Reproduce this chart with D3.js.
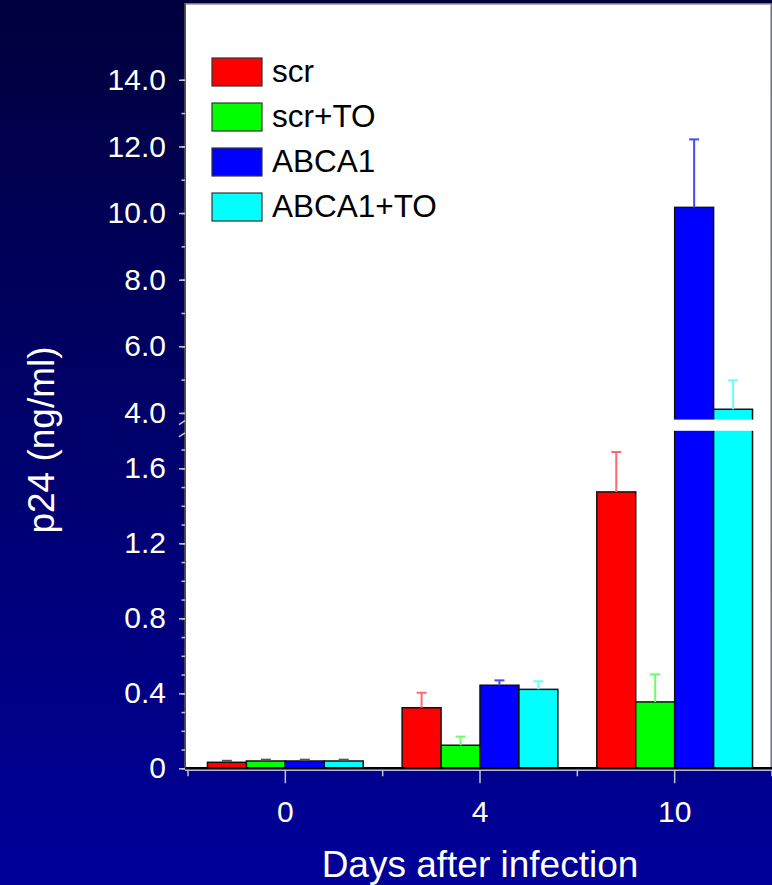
<!DOCTYPE html>
<html>
<head>
<meta charset="utf-8">
<script src="https://cdn.jsdelivr.net/npm/d3@7"></script>
<style>
  body { margin: 0; background: #000080; }
  svg { display: block; font-family: "Liberation Sans", Arial, sans-serif; }
</style>
</head>
<body>
<svg width="772" height="885"></svg>
<script>
// Data
let days = ["0", "4", "10"];
let keys = ["scr", "scr+TO", "ABCA1", "ABCA1+TO"];
let scr = [0.032, 0.323, 1.474];
let scrErr = [0.008, 0.080, 0.213];
let scrTO = [0.039, 0.123, 0.354];
let scrTOErr = [0.007, 0.046, 0.147];
let abca1 = [0.039, 0.443, 10.17];
let abca1Err = [0.007, 0.026, 2.04];
let abca1TO = [0.039, 0.421, 4.11];
let abca1TOErr = [0.007, 0.043, 0.87];
let lowTicks = [0, 0.4, 0.8, 1.2, 1.6];
let highTicks = [4, 6, 8, 10, 12, 14];

let colors = ["#ff0000", "#00ff00", "#0000ff", "#00ffff"];
let errColors = ["#ff6a6a", "#6aff6a", "#4a4aee", "#6affff"];

let series = [scr, scrTO, abca1, abca1TO];
let errs = [scrErr, scrTOErr, abca1Err, abca1TOErr];

// plot box
let plotL = 185, plotR = 771, plotT = 4, plotB = 768.3;

let svg = d3.select("svg");

// background gradient
let grad = svg.append("defs").append("linearGradient")
    .attr("id", "bg").attr("x1", 0).attr("y1", 0).attr("x2", 0).attr("y2", 1);
grad.append("stop").attr("offset", "0%").attr("stop-color", "#00003e");
grad.append("stop").attr("offset", "100%").attr("stop-color", "#00009a");
svg.append("rect").attr("width", 772).attr("height", 885).attr("fill", "url(#bg)");

svg.append("rect")
    .attr("x", plotL).attr("y", plotT)
    .attr("width", plotR - plotL).attr("height", plotB - plotT)
    .attr("fill", "#fff")
    .attr("stroke", "#9a9a9a")
    .attr("stroke-width", 1.5);

// broken y axis: two linear pieces
let breakLo = 1.8, breakHi = 3.8;
let yLo = d3.scaleLinear().domain([0, breakLo]).range([plotB, 430.8]);
let yHi = d3.scaleLinear().domain([breakHi, 16.25]).range([419.6, 4.8]);
function y(v) {
    return v <= breakLo ? yLo(v) : yHi(v);
}

let x0 = d3.scaleBand().domain(days).range([188, 772]);
let x1 = d3.scaleBand().domain(keys).range([0, x0.bandwidth() * 0.8]);
let groupOff = x0.bandwidth() * 0.1;

// flatten for drawing
let bars = [];
days.forEach(function (d, i) {
    keys.forEach(function (k, j) {
        bars.push({ day: d, key: k, idx: j, value: series[j][i], err: errs[j][i] });
    });
});

function barMid(d) {
    return x0(d.day) + groupOff + x1(d.key) + x1.bandwidth() / 2;
}

let g = svg.append("g");

g.selectAll("rect.bar")
    .data(bars)
    .enter().append("rect")
    .attr("class", "bar")
    .attr("x", function (d) { return x0(d.day) + groupOff + x1(d.key); })
    .attr("y", function (d) { return y(d.value); })
    .attr("width", x1.bandwidth())
    .attr("height", function (d) { return plotB - y(d.value); })
    .attr("fill", function (d) { return colors[d.idx]; })
    .attr("stroke", "#111")
    .attr("stroke-width", 1.5);

// error bars (upper only)
let eb = g.selectAll("g.err")
    .data(bars)
    .enter().append("g")
    .attr("class", "err")
    .attr("stroke", function (d) { return d.day === "0" ? "#555" : errColors[d.idx]; })
    .attr("stroke-width", 2);
eb.append("line")
    .attr("x1", barMid).attr("x2", barMid)
    .attr("y1", function (d) { return y(d.value); })
    .attr("y2", function (d) { return y(d.value + d.err); });
eb.append("line")
    .attr("x1", function (d) { return barMid(d) - 5; })
    .attr("x2", function (d) { return barMid(d) + 5; })
    .attr("y1", function (d) { return y(d.value + d.err); })
    .attr("y2", function (d) { return y(d.value + d.err); });

// white gap across the bars at the axis break
svg.append("rect")
    .attr("x", plotL + 1).attr("y", yHi(breakHi))
    .attr("width", plotR - plotL - 2)
    .attr("height", yLo(breakLo) - yHi(breakHi))
    .attr("fill", "#fff");

// baseline
svg.append("line")
    .attr("x1", plotL).attr("x2", 772)
    .attr("y1", plotB).attr("y2", plotB)
    .attr("stroke", "#000").attr("stroke-width", 2.5);
svg.append("line")
    .attr("x1", plotL).attr("x2", 772)
    .attr("y1", plotB + 2).attr("y2", plotB + 2)
    .attr("stroke", "#b8b8e8").attr("stroke-width", 1.5);

// left axis line
svg.append("line")
    .attr("x1", plotL).attr("x2", plotL)
    .attr("y1", plotT).attr("y2", plotB)
    .attr("stroke", "#333").attr("stroke-width", 1.5);

let tickCol = "#c4c4d4";
function styleAxis(sel) {
    sel.select(".domain").remove();
    sel.selectAll(".tick line").attr("stroke", tickCol).attr("stroke-width", 1.5);
    sel.selectAll(".tick text").attr("fill", "#fff").attr("font-size", 30)
        .attr("font-family", "Liberation Sans, Arial, sans-serif");
}

// minor ticks
svg.append("g").attr("transform", "translate(" + plotL + ",0)")
    .call(d3.axisLeft(yLo).tickValues(d3.range(0, 18).map(function (i) { return i / 10; }))
        .tickSize(3.5).tickFormat(""))
    .call(styleAxis);
svg.append("g").attr("transform", "translate(" + plotL + ",0)")
    .call(d3.axisLeft(yHi).tickValues(d3.range(4, 15)).tickSize(3.5).tickFormat(""))
    .call(styleAxis);

// major ticks with labels
svg.append("g").attr("transform", "translate(" + plotL + ",0)")
    .call(d3.axisLeft(yLo).tickValues(lowTicks).tickSize(6).tickPadding(13)
        .tickFormat(function (d) { return d === 0 ? "0" : d3.format(".1f")(d); }))
    .call(styleAxis);
svg.append("g").attr("transform", "translate(" + plotL + ",0)")
    .call(d3.axisLeft(yHi).tickValues(highTicks).tickSize(6).tickPadding(13)
        .tickFormat(d3.format(".1f")))
    .call(styleAxis);

// break marks on the axis
[yHi(breakHi) + 3, yLo(breakLo) + 4].forEach(function (yy) {
    svg.append("line")
        .attr("x1", plotL - 6).attr("y1", yy + 2)
        .attr("x2", plotL).attr("y2", yy - 2)
        .attr("stroke", tickCol).attr("stroke-width", 1.5);
});

// x axis
svg.append("g").attr("transform", "translate(0," + (plotB + 2) + ")")
    .call(d3.axisBottom(x0).tickSize(13).tickPadding(17))
    .call(styleAxis);
svg.append("g").selectAll("line")
    .data(days.concat(["end"]))
    .enter().append("line")
    .attr("x1", function (d) { return d === "end" ? x0.range()[1] : x0(d); })
    .attr("x2", function (d) { return d === "end" ? x0.range()[1] : x0(d); })
    .attr("y1", plotB + 2).attr("y2", plotB + 8)
    .attr("stroke", tickCol).attr("stroke-width", 1.5);

// axis titles
svg.append("text")
    .attr("x", 480).attr("y", 877)
    .attr("text-anchor", "middle")
    .attr("fill", "#fff").attr("font-size", 37)
    .text("Days after infection");
svg.append("text")
    .attr("transform", "translate(54,440) rotate(-90)")
    .attr("text-anchor", "middle")
    .attr("fill", "#fff").attr("font-size", 37)
    .text("p24 (ng/ml)");

// legend
let legend = svg.append("g")
    .selectAll("g")
    .data(keys)
    .enter().append("g")
    .attr("transform", function (d, i) {
        return "translate(212," + (58 + i * 45) + ")";
    });
legend.append("rect")
    .attr("width", 50).attr("height", 28)
    .attr("fill", function (d, i) { return colors[i]; })
    .attr("stroke", "#333").attr("stroke-width", 1.2);
legend.append("text")
    .attr("x", 60).attr("y", 13)
    .attr("dy", "0.35em")
    .attr("font-size", 31.5)
    .attr("fill", "#000")
    .text(function (d) { return d; });
</script>
</body>
</html>
